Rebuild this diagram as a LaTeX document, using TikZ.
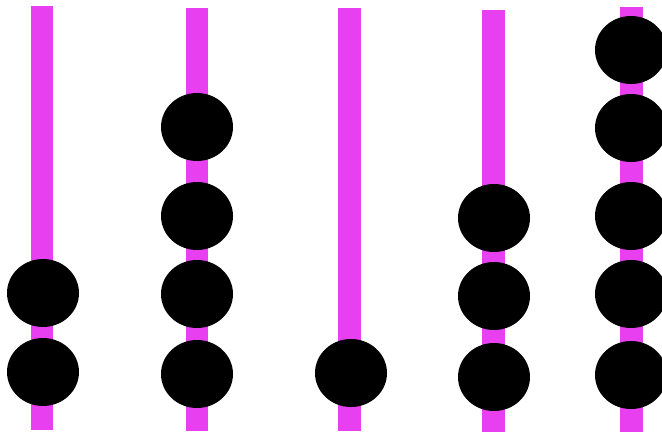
\documentclass[tikz,border=0pt]{standalone}
\definecolor{rodmag}{RGB}{232,64,240}
\tikzset{
  rod/.style={fill=rodmag, draw=none},
  bead/.style={fill=black, draw=none}
}
\begin{document}
\begin{tikzpicture}[x=1pt,y=-1pt]
\useasboundingbox (0,0) rectangle (662,432);
\clip (0,0) rectangle (662,432);
% rods
\fill[rod] (31,6) rectangle (53,430);
\fill[rod] (186,8) rectangle (208,431);
\fill[rod] (338,8) rectangle (361,431);
\fill[rod] (482,10) rectangle (505,432);
\fill[rod] (620,7) rectangle (643,432);
% beads
\foreach \y in {293,372} \fill[bead] (43,\y) ellipse [x radius=36, y radius=34];
\foreach \y in {127,216,294,374} \fill[bead] (197,\y) ellipse [x radius=36, y radius=34];
\foreach \y in {373} \fill[bead] (351,\y) ellipse [x radius=36, y radius=34];
\foreach \y in {218,296,377} \fill[bead] (494,\y) ellipse [x radius=36, y radius=34];
\foreach \y in {50,128,216,294,375} \fill[bead] (631,\y) ellipse [x radius=36, y radius=34];
\end{tikzpicture}
\end{document}
